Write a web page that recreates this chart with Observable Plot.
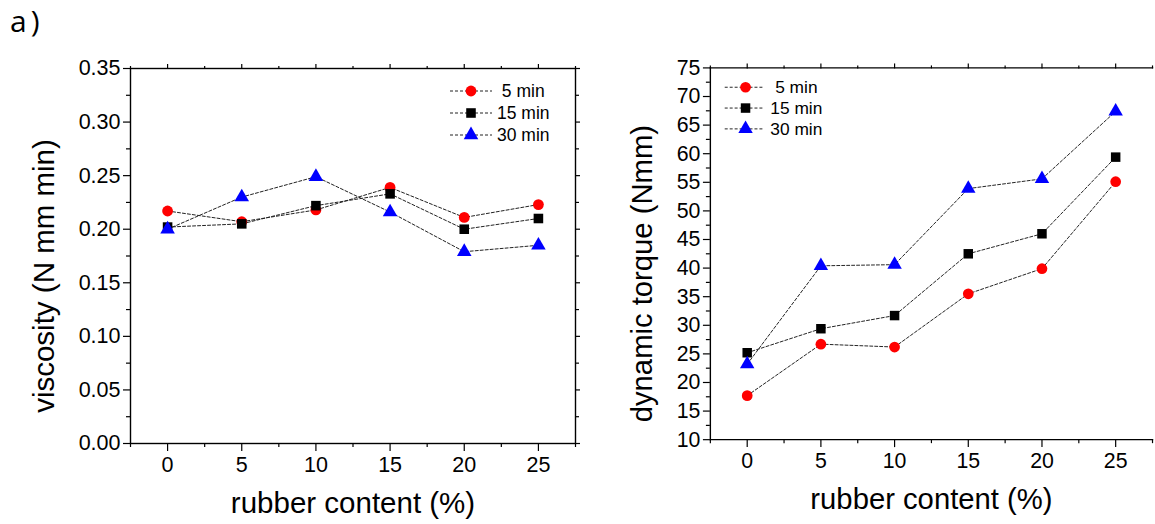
<!DOCTYPE html>
<html><head><meta charset="utf-8">
<script src="https://cdn.jsdelivr.net/npm/d3@7"></script>
<script src="https://cdn.jsdelivr.net/npm/@observablehq/plot@0.6"></script>
<style>
body{margin:0;background:#fff;width:1155px;height:524px;overflow:hidden;position:relative;}
#tag{position:absolute;left:10px;top:4px;font:30px/34px "Open Sans",sans-serif;color:#000;letter-spacing:4px;}
#left{position:absolute;left:0;top:0;}
#right{position:absolute;left:578px;top:0;}
</style>
</head><body>
<div id="tag">a)</div>
<div id="left"></div>
<div id="right"></div>
<script>
// ---- data ----
const rubber = [0, 5, 10, 15, 20, 25];
const seriesNames = ["5 min", "15 min", "30 min"];
const visc5 = [0.217, 0.207, 0.218, 0.239, 0.211, 0.223];
const visc15 = [0.202, 0.205, 0.222, 0.233, 0.200, 0.210];
const visc30 = [0.200, 0.230, 0.249, 0.216, 0.179, 0.185];
const torque5 = [17.7, 26.7, 26.2, 35.5, 39.9, 55.1];
const torque15 = [25.2, 29.4, 31.7, 42.5, 46.0, 59.4];
const torque30 = [23.2, 40.4, 40.6, 53.9, 55.6, 67.4];
const xMajor = [0, 5, 10, 15, 20, 25];
const xMinor = [-2.5, 2.5, 7.5, 12.5, 17.5, 22.5, 27.5];
const viscMajor = [0, 0.05, 0.10, 0.15, 0.20, 0.25, 0.30, 0.35];
const viscMinor = [0.025, 0.075, 0.125, 0.175, 0.225, 0.275, 0.325];
const torqueMajor = [10, 15, 20, 25, 30, 35, 40, 45, 50, 55, 60, 65, 70, 75];
const torqueMinor = [12.5, 17.5, 22.5, 27.5, 32.5, 37.5, 42.5, 47.5, 52.5, 57.5, 62.5, 67.5, 72.5];
const legendLabels = [" 5 min", "15 min", "30 min"];

const colors = ["#ff0000", "#000000", "#0000ff"];
const symbols = ["circle", "square", "triangle"];
const FONT = "'Liberation Sans', Arial, Helvetica, sans-serif";

function rowsOf(arrs) {
  const out = [];
  arrs.forEach((a, k) => a.forEach((v, i) => out.push({x: rubber[i], y: v, series: seriesNames[k]})));
  return out;
}

function panel(opts) {
  const rows = rowsOf(opts.series);
  const frameMarks = opts.rightSide
    ? [Plot.frame({stroke: "#000", strokeWidth: 1.4})]
    : [Plot.frame({anchor: "top", stroke: "#000", strokeWidth: 1.4}),
       Plot.frame({anchor: "left", stroke: "#000", strokeWidth: 1.4}),
       Plot.frame({anchor: "bottom", stroke: "#000", strokeWidth: 1.4})];
  const rightAxes = opts.rightSide ? [
      Plot.axisY({anchor: "right", ticks: opts.yMajor, tickSize: 6, text: null, label: null, strokeWidth: 1.2}),
      Plot.axisY({anchor: "right", ticks: opts.yMinor, tickSize: 3, text: null, label: null, strokeWidth: 1.2})
  ] : [];
  const plot = Plot.plot({
    width: opts.width, height: 524,
    marginLeft: opts.marginLeft, marginRight: opts.marginRight, marginTop: 68, marginBottom: 81,
    style: {fontFamily: FONT, background: "transparent", overflow: "hidden", color: "#000"},
    x: {domain: [-2.5, 27.5]},
    y: {domain: opts.yDomain},
    symbol: {domain: seriesNames, range: symbols},
    color: {domain: seriesNames, range: colors},
    marks: [
      Plot.axisX({ticks: xMajor, tickSize: 8, tickPadding: 5, fontSize: 21.5, label: null, tickFormat: d => String(d), strokeWidth: 1.2}),
      Plot.axisX({ticks: xMinor, tickSize: 4, text: null, label: null, strokeWidth: 1.2}),
      Plot.axisX({anchor: "top", ticks: xMajor, tickSize: 5, text: null, label: null, strokeWidth: 1.2}),
      Plot.axisX({anchor: "top", ticks: xMinor, tickSize: 3, text: null, label: null, strokeWidth: 1.2}),
      Plot.axisY({ticks: opts.yMajor, tickSize: 7, tickPadding: 3, fontSize: 21.5, label: null, tickFormat: opts.fmt, strokeWidth: 1.2}),
      Plot.axisY({ticks: opts.yMinor, tickSize: 4, text: null, label: null, strokeWidth: 1.2}),
      ...rightAxes,
      ...frameMarks,
      Plot.line(rows, {x: "x", y: "y", z: "series", stroke: "#222", strokeWidth: 1, strokeDasharray: "3,2"}),
      Plot.dot(rows, {x: "x", y: "y", symbol: "series", fill: "series", r: 5.4, stroke: null}),
      Plot.text([opts.ylabel], {text: d => d, frameAnchor: "left", textAnchor: "middle", lineAnchor: "middle", rotate: -90, dx: opts.ylabelDx, dy: 20, fontSize: 29.5, fill: "#000"}),
      Plot.text(["rubber content (%)"], {text: d => d, frameAnchor: "bottom", textAnchor: "middle", lineAnchor: "middle", dy: 60, fontSize: 29.5, fill: "#000"})
    ]
  });
  // legend
  const svg = d3.select(plot);
  const g = svg.append("g").attr("font-family", FONT).attr("font-size", 17.5).attr("text-anchor", "start");
  seriesNames.forEach((s, k) => {
    const y = opts.legend.y0 + k * opts.legend.dy;
    g.append("line").attr("x1", opts.legend.x0).attr("x2", opts.legend.x1).attr("y1", y).attr("y2", y)
      .attr("stroke", "#222").attr("stroke-width", 1).attr("stroke-dasharray", "3,2");
    const sym = {circle: d3.symbolCircle, square: d3.symbolSquare, triangle: d3.symbolTriangle}[symbols[k]];
    g.append("path").attr("d", d3.symbol(sym, 5.4 * 5.4 * Math.PI)())
      .attr("transform", `translate(${opts.legend.xm},${y})`).attr("fill", colors[k]);
    g.append("text").attr("x", opts.legend.xt).attr("y", y).attr("dy", "0.35em")
      .attr("text-anchor", "start").style("white-space", "pre").text(legendLabels[k]);
  });
  return plot;
}

document.getElementById("left").append(panel({
  width: 580, marginLeft: 130, marginRight: 5, rightSide: true,
  series: [visc5, visc15, visc30], yDomain: [0, 0.35], yMajor: viscMajor, yMinor: viscMinor,
  fmt: d3.format(".2f"), ylabel: "viscosity (N mm min)", ylabelDx: -86,
  legend: {x0: 450, x1: 492, xm: 471, xt: 497, y0: 91, dy: 22}
}));
document.getElementById("right").append(panel({
  width: 582, marginLeft: 133, marginRight: 3, rightSide: false,
  series: [torque5, torque15, torque30], yDomain: [10, 75], yMajor: torqueMajor, yMinor: torqueMinor,
  fmt: d => String(d), ylabel: "dynamic torque (Nmm)", ylabelDx: -68,
  legend: {x0: 148, x1: 188, xm: 169, xt: 194, y0: 88, dy: 21}
}));
</script>
</body></html>
